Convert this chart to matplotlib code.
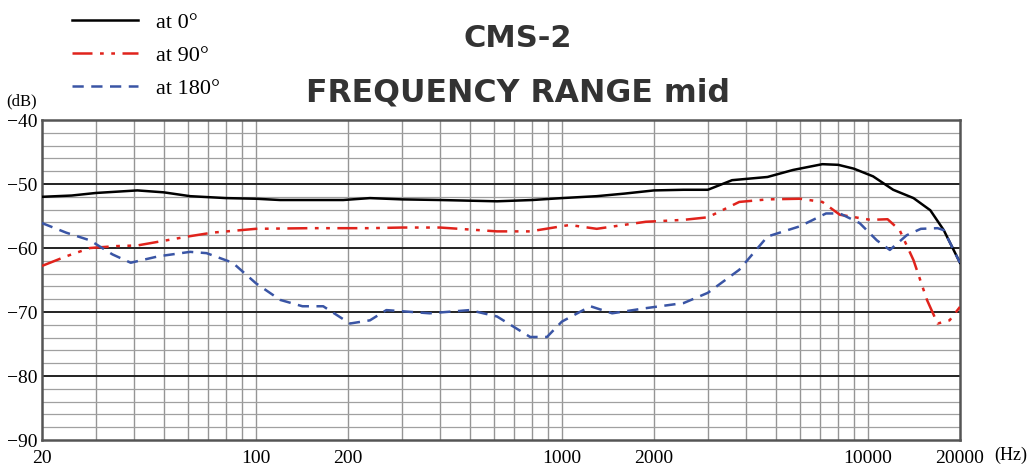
import numpy as np
import matplotlib
matplotlib.use("Agg")
import matplotlib.pyplot as plt
from matplotlib.ticker import FixedLocator, NullFormatter, NullLocator

# response curves (Hz, dB)
freq_0 = [20, 25, 30, 41, 50, 61, 80, 100, 120, 150, 193, 236, 300, 400, 614, 800,
          1000, 1300, 1600, 2000, 2500, 3000, 3600, 4700, 5700, 7100, 8000, 9000,
          10400, 12100, 14100, 16000, 17700, 20000]
db_0 = [-52.0, -51.8, -51.4, -51.0, -51.3, -51.9, -52.2, -52.3, -52.5, -52.5, -52.5,
        -52.2, -52.4, -52.5, -52.7, -52.5, -52.2, -51.9, -51.5, -51.0, -50.9, -50.9,
        -49.4, -48.9, -47.8, -46.9, -47.0, -47.6, -48.8, -50.9, -52.2, -54.1, -57.2,
        -62.3]

freq_90 = [20, 24, 28.7, 35, 41, 51, 60, 72, 100, 150, 236, 300, 400, 614, 788,
           1060, 1300, 1880, 2500, 3000, 3800, 4700, 6000, 7100, 8100, 10200, 11600,
           12700, 14100, 15600, 16900, 18500, 20000]
db_90 = [-62.8, -61.3, -60.0, -59.7, -59.6, -58.8, -58.2, -57.6, -57.0, -56.9, -56.9,
         -56.8, -56.8, -57.4, -57.4, -56.4, -57.0, -55.9, -55.6, -55.2, -52.8, -52.4,
         -52.3, -52.8, -54.8, -55.6, -55.5, -57.2, -61.9, -68.1, -71.8, -71.3, -69.2]

freq_180 = [20, 24, 28.7, 34, 39, 48, 61, 69, 84, 100, 120, 142, 166, 203, 236, 267,
            370, 500, 614, 788, 894, 1000, 1240, 1460, 1880, 2500, 3000, 3800, 4700,
            6000, 7300, 8100, 9400, 10700, 11800, 13400, 14900, 16900, 17700, 20000]
db_180 = [-56.1, -57.6, -58.8, -61.0, -62.3, -61.3, -60.6, -60.8, -62.3, -65.5, -68.1,
          -69.1, -69.1, -71.8, -71.3, -69.7, -70.2, -69.7, -70.7, -73.9, -73.9, -71.5,
          -69.1, -70.2, -69.4, -68.6, -67.0, -63.4, -58.2, -56.6, -54.6, -54.6, -56.1,
          -58.8, -60.3, -58.0, -57.0, -56.9, -57.2, -62.3]

xtick_vals = [20, 100, 200, 1000, 2000, 10000, 20000]
ytick_vals = [-40, -50, -60, -70, -80, -90]

SERIF = "Liberation Serif"

fig = plt.figure(figsize=(10.31, 4.69), dpi=100)
ax = fig.add_axes([0.0407, 0.0618, 0.8904, 0.6823])
ax.set_xscale("log")
ax.set_xlim(20, 20000)
ax.set_ylim(-90, -40)

# vertical grid: 30..100, 200..1000, 2000..10000
vgrid = [m * d for d in (10, 100, 1000) for m in range(2, 11)]
vgrid = [v for v in vgrid if 20 < v <= 10000]
for v in vgrid:
    ax.axvline(v, color="#959595", lw=1.0, zorder=1)
for yv in range(-88, -40, 2):
    if yv % 10 == 0:
        ax.axhline(yv, color="#222222", lw=1.4, zorder=1.5)
    else:
        ax.axhline(yv, color="#a0a0a0", lw=0.9, zorder=1)

l0, = ax.plot(freq_0, db_0, color="black", lw=1.8, zorder=3)
l90, = ax.plot(freq_90, db_90, color="#e0231c", lw=1.8, zorder=3,
               dashes=(8, 3, 1.5, 3, 1.5, 3))
l180, = ax.plot(freq_180, db_180, color="#3a55a5", lw=1.8, zorder=3,
                dashes=(4.5, 3))

for s in ax.spines.values():
    s.set_color("#555555")
    s.set_linewidth(1.8)

ax.xaxis.set_major_locator(FixedLocator(xtick_vals))
ax.xaxis.set_minor_locator(NullLocator())
ax.xaxis.set_minor_formatter(NullFormatter())
ax.set_xticklabels([str(v) for v in xtick_vals], fontfamily=SERIF, fontsize=14)
ax.yaxis.set_major_locator(FixedLocator(ytick_vals))
ax.set_yticklabels(["\u221240", "\u221250", "\u221260", "\u221270", "\u221280", "\u221290"],
                   fontfamily=SERIF, fontsize=14)
ax.tick_params(axis="y", length=0, pad=3)
ax.tick_params(axis="x", length=0, pad=7)

fig.text(0.0213, 0.783, "(dB)", fontfamily=SERIF, fontsize=12, ha="center", va="center")
fig.text(0.980, 0.030, "(Hz)", fontfamily=SERIF, fontsize=13, ha="center", va="center")

fig.text(0.502, 0.918, "CMS-2", fontsize=22, fontweight="bold", color="#333333",
         ha="center", va="center")
fig.text(0.502, 0.802, "FREQUENCY RANGE mid", fontsize=22.7, fontweight="bold",
         color="#333333", ha="center", va="center")

leg = fig.legend([l0, l90, l180], ["at 0\u00b0", "at 90\u00b0", "at 180\u00b0"],
                 loc="upper left", bbox_to_anchor=(0.050, 1.016), frameon=False,
                 prop={"family": SERIF, "size": 16}, handlelength=3.0,
                 labelspacing=0.55, handletextpad=0.8)
for h in leg.legend_handles:
    h.set_linewidth(1.8)

fig.savefig("out.png", dpi=100)
